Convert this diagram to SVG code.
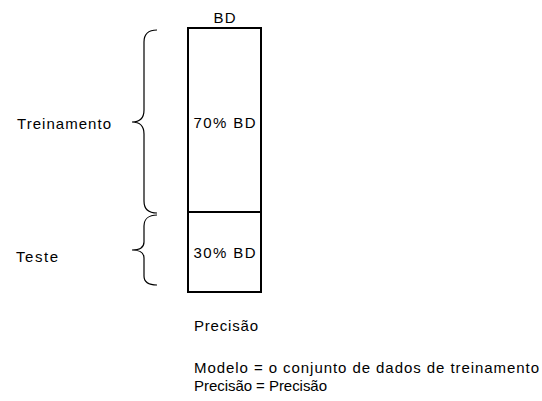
<svg xmlns="http://www.w3.org/2000/svg" width="542" height="401" viewBox="0 0 542 401">
<style>
text{font-family:"Liberation Sans",Arial,sans-serif;font-size:15px;fill:#000}
.b{fill:none;stroke:#000;stroke-width:1.2}
.box{fill:#fff;stroke:#000;stroke-width:2}
</style>
<rect width="542" height="401" fill="#fff"/>
<g id="bd">
<rect class="box" x="188" y="28" width="73" height="264"/>
<line x1="188" y1="212" x2="261" y2="212" stroke="#000" stroke-width="2"/>
<text x="224.5" y="23" text-anchor="middle" textLength="22" lengthAdjust="spacing">BD</text>
<text x="224.5" y="128" text-anchor="middle" textLength="62" lengthAdjust="spacing">70% BD</text>
<text x="224.5" y="258" text-anchor="middle" textLength="62" lengthAdjust="spacing">30% BD</text>
</g>
<g id="connectors">
<path class="b" d="M157,30 C149,30 144,34 144,42 L144,110 C144,118 140,122 132,122 C140,122 144,126 144,134 L144,201 C144,209 149,213 157,213"/>
<path class="b" d="M157,215 C149,215 144,219 144,226 L144,242 C144,247 140,250 132,250 C140,250 144,253 144,258 L144,276 C144,282 149,285 157,285"/>
</g>
<g id="treinamento"><text x="17" y="129" textLength="94" lengthAdjust="spacing">Treinamento</text></g>
<g id="teste"><text x="16" y="262" textLength="42" lengthAdjust="spacing">Teste</text></g>
<g id="precisao"><text x="194" y="331" textLength="64" lengthAdjust="spacing">Precisão</text></g>
<g id="legenda">
<text x="194" y="373" textLength="345" lengthAdjust="spacing">Modelo = o conjunto de dados de treinamento</text>
<text x="194" y="391" textLength="133" lengthAdjust="spacing">Precisão = Precisão</text>
</g>
</svg>
